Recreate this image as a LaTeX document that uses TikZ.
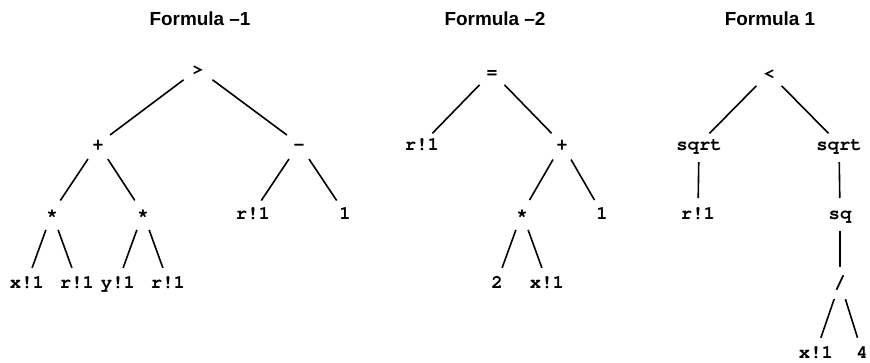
\documentclass[tikz,border=0pt]{standalone}
\usepackage[T1,TU]{fontenc}
\usepackage{fontspec}
\setmainfont{Liberation Sans}
\setmonofont{Liberation Mono}

\begin{document}
\begin{tikzpicture}[x=1bp, y=-1bp, line width=1.6bp,
    term/.style={anchor=base, inner sep=0pt, text height=12bp, text depth=0pt,
      font=\fontsize{19}{19}\fontencoding{T1}\fontfamily{pcr}\fontseries{b}\selectfont},
    heading/.style={anchor=base, inner sep=0pt, font=\fontsize{19}{19}\selectfont\bfseries},
    branch/.style={shorten <=18bp, shorten >=15bp}]
  \useasboundingbox (0,0) rectangle (870,362);

  % Formula -1
  \node[heading] (h1) at (200,25) {Formula \textendash1};
  \node[term] (gt) at (198,75) {>};
  \node[term] (plusA) at (98,150) {+};
  \node[term] (minusA) at (299,150) {-};
  \node[term] (timesA) at (52,219) {*};
  \node[term] (timesB) at (143,219) {*};
  \node[term] (rA) at (253,219) {r!1};
  \node[term] (oneA) at (345,219) {1};
  \node[term] (xA) at (27,288) {x!1};
  \node[term] (rB) at (77,288) {r!1};
  \node[term] (yA) at (118,288) {y!1};
  \node[term] (rC) at (168,288) {r!1};
  \draw[branch] (gt.center) -- (plusA.center);
  \draw[branch] (gt.center) -- (minusA.center);
  \draw[branch] (plusA.center) -- (timesA.center);
  \draw[branch] (plusA.center) -- (timesB.center);
  \draw[branch] (minusA.center) -- (rA.center);
  \draw[branch] (minusA.center) -- (oneA.center);
  \draw[branch] (timesA.center) -- (xA.center);
  \draw[branch] (timesA.center) -- (rB.center);
  \draw[branch] (timesB.center) -- (yA.center);
  \draw[branch] (timesB.center) -- (rC.center);

  % Formula -2
  \node[heading] (h2) at (495,25) {Formula \textendash2};
  \node[term] (eq) at (492,78) {=};
  \node[term] (rD) at (422,150) {r!1};
  \node[term] (plusB) at (562,150) {+};
  \node[term] (timesC) at (522,219) {*};
  \node[term] (oneB) at (602,219) {1};
  \node[term] (two) at (497,288) {2};
  \node[term] (xB) at (547,288) {x!1};
  \draw[branch] (eq.center) -- (rD.center);
  \draw[branch] (eq.center) -- (plusB.center);
  \draw[branch] (plusB.center) -- (timesC.center);
  \draw[branch] (plusB.center) -- (oneB.center);
  \draw[branch] (timesC.center) -- (two.center);
  \draw[branch] (timesC.center) -- (xB.center);

  % Formula 1
  \node[heading] (h3) at (770,25) {Formula 1};
  \node[term] (lt) at (769,79) {<};
  \node[term] (sqrtA) at (699,150) {sqrt};
  \node[term] (sqrtB) at (839,150) {sqrt};
  \node[term] (rE) at (698,219) {r!1};
  \node[term] (sq) at (840,219) {sq};
  \node[term] (slash) at (840,288) {/};
  \node[term] (xC) at (816,358) {x!1};
  \node[term] (four) at (862,358) {4};
  \draw[branch] (lt.center) -- (sqrtA.center);
  \draw[branch] (lt.center) -- (sqrtB.center);
  \draw[branch] (sqrtA.center) -- (rE.center);
  \draw[branch] (sqrtB.center) -- (sq.center);
  \draw[branch] (sq.center) -- (slash.center);
  \draw[branch] (slash.center) -- (xC.center);
  \draw[branch] (slash.center) -- (four.center);
\end{tikzpicture}
\end{document}
